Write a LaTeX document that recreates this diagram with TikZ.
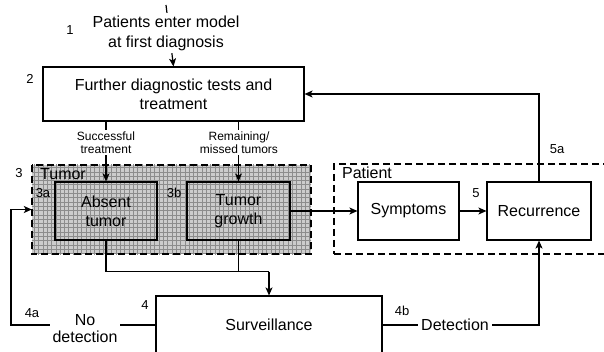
\documentclass[tikz,border=0pt]{standalone}
\usepackage{fontspec}
\setmainfont{Liberation Sans}
\usetikzlibrary{arrows.meta,calc}
\newcommand\fBig{\fontsize{16}{19}\selectfont}
\newcommand\fEntry{\fontsize{16}{20}\selectfont}
\newcommand\fNoDet{\fontsize{16}{17}\selectfont}
\newcommand\fSmall{\fontsize{12}{13.5}\selectfont}
\newcommand\fNum{\fontsize{13}{15}\selectfont}
\begin{document}
\begin{tikzpicture}[x=1pt,y=-1pt,
  boxnode/.style={draw=black, line width=1.1pt, inner sep=0pt, align=center, font=\fBig},
  region/.style={draw=black, line width=2pt, dash pattern=on 7pt off 4pt},
  conn/.style={line width=1.2pt},
  arr/.style={conn, -{Stealth[length=8pt,width=7pt,inset=2pt]}},
  lbl/.style={fill=white, inner sep=1.5pt, align=center},
  num/.style={font=\fNum, inner sep=0pt}]
\useasboundingbox[fill=white] (0,0) rectangle (604,352);

% tumor region background with grid
\node[fill=black!20, inner sep=0pt, minimum width=279pt, minimum height=89pt] (tumorreg) at (171.5,209.5) {};
\begin{scope}
  \clip (tumorreg.south west) rectangle (tumorreg.north east);
  \draw[black!45, line width=0.8pt, step=4.3pt] ($(tumorreg.south west)+(-2,2)$) grid ($(tumorreg.north east)+(2,-2)$);
\end{scope}

% boxes
\node[boxnode, minimum width=261pt, minimum height=54pt] (diag) at (173.5,94) {Further diagnostic tests and\\treatment};
\node[boxnode, minimum width=102pt, minimum height=58pt] (absent) at (106,211) {Absent\\tumor};
\node[boxnode, minimum width=103pt, minimum height=58pt] (growth) at (238.5,211) {Tumor\\growth};
\node[boxnode, minimum width=101pt, minimum height=58pt] (sympt) at (408.5,211) {Symptoms};
\node[boxnode, minimum width=104pt, minimum height=58pt] (recur) at (539,211) {Recurrence};
\node[boxnode, minimum width=226pt, minimum height=58pt] (surv) at (269,325) {Surveillance};

% region borders
\draw[region] (tumorreg.north west) rectangle (tumorreg.south east);
\node[region, inner sep=0pt, minimum width=280pt, minimum height=90pt] (patreg) at (474,209) {};
\node[font=\fBig, inner sep=0pt] at (63,174) {Tumor};
\node[font=\fBig, inner sep=0pt] at (367,173) {Patient};

% entry
\coordinate (start) at (166,5);
\draw[arr] (start) -- (diag.north);
\node[lbl, font=\fEntry, inner sep=3pt] (entry) at (166,33) {Patients enter model\\at first diagnosis};

% from diagnosis to tumor states
\draw[arr] (diag.south -| absent.north) -- (absent.north);
\draw[arr] (diag.south -| growth.north) -- (growth.north);
\node[lbl, font=\fSmall] (succ) at (106,142.5) {Successful\\treatment};
\node[lbl, font=\fSmall] (remain) at (239,142.5) {Remaining/\\missed tumors};

% to surveillance
\coordinate (jn) at (269,271.5);
\draw[conn] (absent.south) |- (jn);
\draw[conn] (growth.south) -- (growth.south |- jn);
\draw[arr] (jn) -- (surv.north);

% patient side
\draw[arr] (growth.east) -- (sympt.west);
\draw[arr] (sympt.east) -- (recur.west);
\draw[arr] (recur.north) |- (diag.east);

% surveillance outcomes
\coordinate (lft) at (11,325);
\draw[arr] (surv.west) -- (lft) |- (tumorreg.west);
\node[lbl, font=\fNoDet, inner sep=3pt] (nodet) at (85,328.5) {No\\detection};
\draw[arr] (surv.east) -| (recur.south);
\node[lbl, font=\fBig, inner sep=3pt] (det) at (455,325) {Detection};

% numbers
\node[num] at (70,30) {1};
\node[num] at (30,79) {2};
\node[num] at (19,173) {3};
\node[num] at (43,193) {3a};
\node[num] at (174,193) {3b};
\node[num] at (476,193) {5};
\node[num] at (557,149) {5a};
\node[num] at (145,305) {4};
\node[num] at (32,313) {4a};
\node[num] at (402,311) {4b};
\end{tikzpicture}
\end{document}
